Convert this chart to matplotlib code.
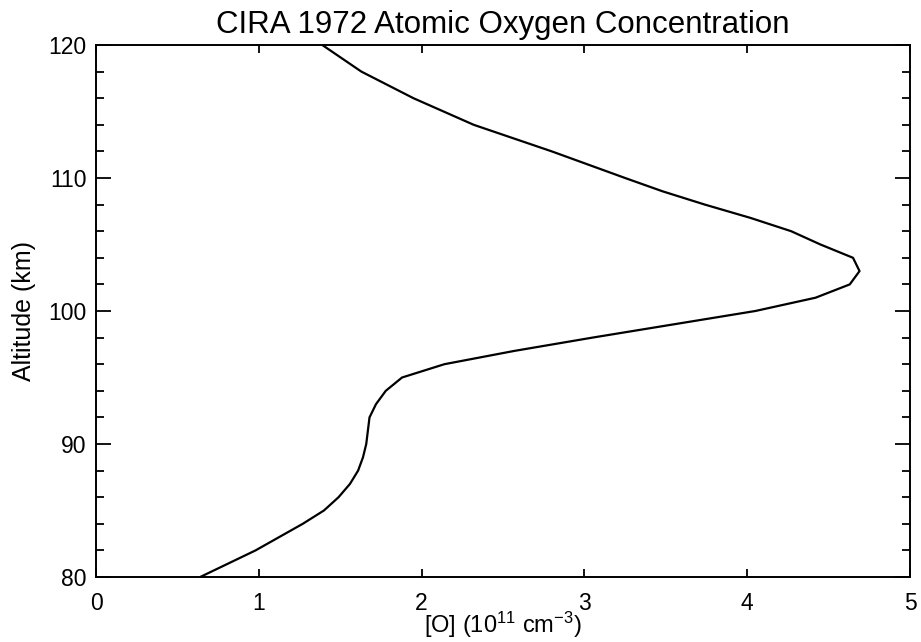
import matplotlib
matplotlib.use("Agg")
import matplotlib.pyplot as plt
from matplotlib.ticker import MultipleLocator

plt.rcParams['font.family'] = ['Liberation Sans', 'DejaVu Sans']
plt.rcParams['mathtext.default'] = 'regular'

# Altitude (km) and atomic oxygen concentration (1e11 cm^-3)
altitude = [80, 82, 84, 85, 86, 87, 88, 89, 90, 91, 92, 93, 94, 95, 96, 97, 98, 99,
            100, 101, 102, 103, 104, 105, 106, 107, 108, 109, 110, 112, 114, 116, 118, 120]
oxygen = [0.64, 0.98, 1.27, 1.40, 1.49, 1.56, 1.61, 1.64, 1.66, 1.67, 1.68, 1.72, 1.78, 1.88,
          2.14, 2.57, 3.05, 3.55, 4.05, 4.42, 4.63, 4.69, 4.65, 4.45, 4.27, 4.02, 3.74, 3.48,
          3.25, 2.80, 2.32, 1.95, 1.63, 1.39]

x_ticks = [0, 1, 2, 3, 4, 5]
y_ticks = [80, 90, 100, 110, 120]

fig = plt.figure(figsize=(9.21, 6.42), dpi=100)
ax = fig.add_axes([96/921, 1 - 577/642, (910 - 96)/921, (577 - 45)/642])

ax.plot(oxygen, altitude, color='black', lw=1.6)

ax.set_xlim(0, 5)
ax.set_ylim(80, 120)
ax.set_xticks(x_ticks)
ax.set_yticks(y_ticks)
ax.yaxis.set_minor_locator(MultipleLocator(2))

for s in ax.spines.values():
    s.set_linewidth(1.4)

ax.tick_params(axis='both', which='both', direction='in', top=True, right=True,
               color='black', width=1.3)
ax.tick_params(axis='x', which='major', length=6, pad=11, labelsize=16.5)
ax.tick_params(axis='y', which='major', length=11, pad=7, labelsize=16.5)
ax.tick_params(axis='y', which='minor', length=6)

ax.set_title('CIRA 1972 Atomic Oxygen Concentration', fontsize=22.5, pad=9)
ax.set_xlabel('[O] (10$^{11}$ cm$^{-3}$)', fontsize=17)
ax.xaxis.set_label_coords(0.5, -(625 - 577) / (577 - 45))
ax.xaxis.label.set_va('center')
ax.set_ylabel('Altitude (km)', fontsize=18)
ax.yaxis.set_label_coords(-(96 - 24) / (910 - 96), 0.5)
ax.yaxis.label.set_va('center')

fig.savefig('out.png', dpi=100)
